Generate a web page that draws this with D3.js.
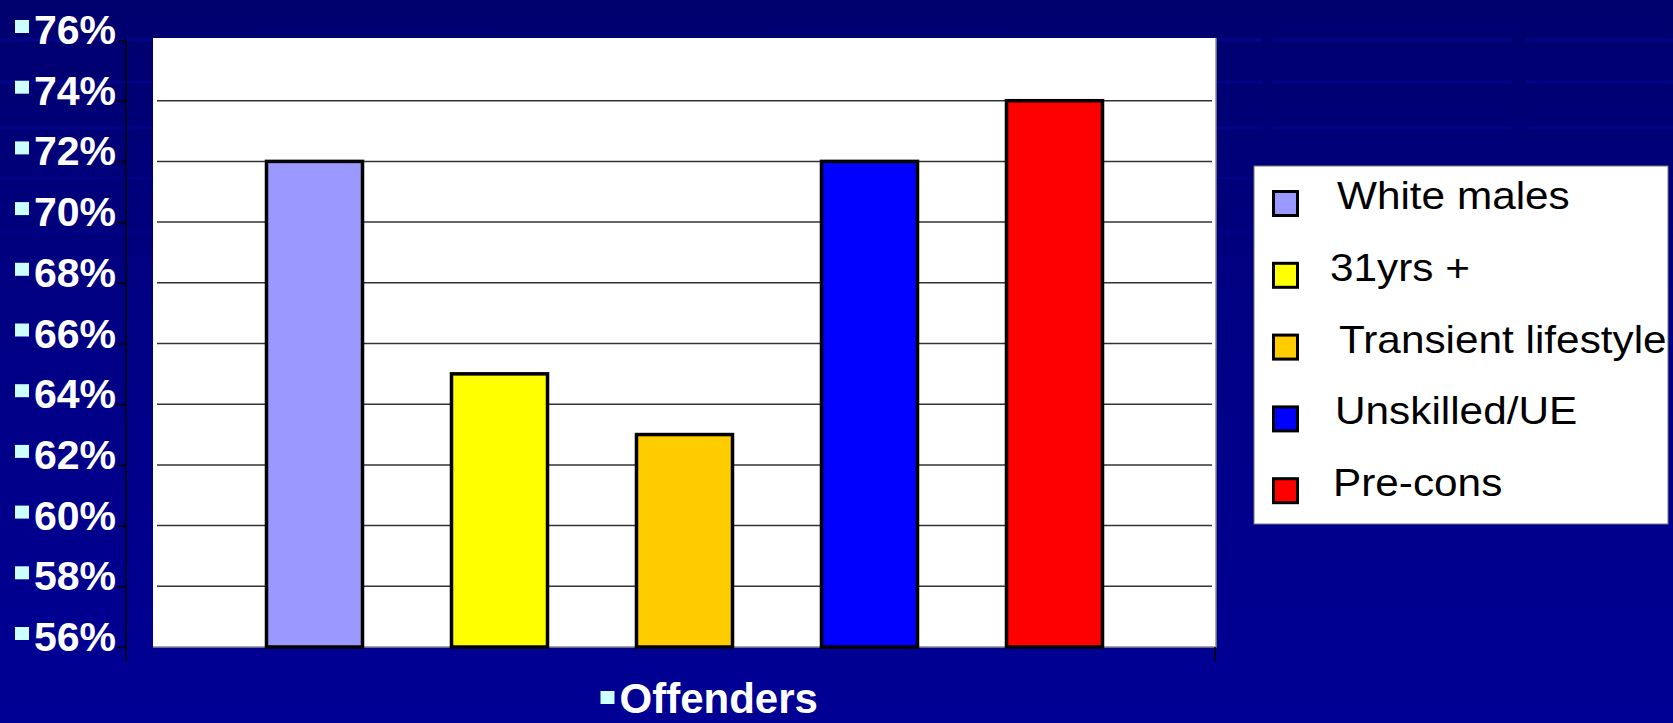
<!DOCTYPE html>
<html>
<head>
<meta charset="utf-8">
<script src="https://cdn.jsdelivr.net/npm/d3@7"></script>
<style>
  html, body { margin: 0; padding: 0; background: #00008a; overflow: hidden; }
  svg { display: block; }
</style>
</head>
<body>
<script>
const series = ["White males", "31yrs +", "Transient lifestyle", "Unskilled/UE", "Pre-cons"];
const values = [0.72, 0.65, 0.63, 0.72, 0.74];
const colors = ["#9999ff", "#ffff00", "#ffcc00", "#0000ff", "#ff0000"];
const yTicks = [0.56, 0.58, 0.60, 0.62, 0.64, 0.66, 0.68, 0.70, 0.72, 0.74, 0.76];
const category = "Offenders";

const W = 1673, H = 723;
const plot = {left: 153, top: 38, right: 1216, bottom: 647};

const svg = d3.select("body")
				.append("svg")
				.attr("width", W)
				.attr("height", H);

// slide background
const defs = svg.append("defs");
const grad = defs.append("linearGradient")
				.attr("id", "bg")
				.attr("x1", 0).attr("y1", 0).attr("x2", 0).attr("y2", 1);
grad.append("stop").attr("offset", "0%").attr("stop-color", "#00006e");
grad.append("stop").attr("offset", "45%").attr("stop-color", "#000084");
grad.append("stop").attr("offset", "100%").attr("stop-color", "#000094");
svg.append("rect")
	.attr("width", W)
	.attr("height", H)
	.attr("fill", "url(#bg)");

// faint stripes of the template
svg.selectAll("line.stripe")
	.data([40, 82, 128, 178, 232])
	.enter()
	.append("line")
	.attr("class", "stripe")
	.attr("x1", 0)
	.attr("x2", W)
	.attr("y1", d => d)
	.attr("y2", d => d)
	.attr("stroke", "#0a0ab4")
	.attr("stroke-width", 3)
	.attr("stroke-dasharray", "240,14,160,10")
	.attr("opacity", (d, i) => 0.4 - i*0.07);

const y = d3.scaleLinear()
			.domain([0.56, 0.76])
			.range([647, 40]);

const x = d3.scaleBand()
			.domain(series)
			.range([plot.left, plot.right])
			.paddingInner(0.481)
			.paddingOuter(0.6135);

// plot area
svg.append("rect")
	.attr("x", plot.left)
	.attr("y", plot.top)
	.attr("width", plot.right - plot.left)
	.attr("height", plot.bottom - plot.top)
	.attr("fill", "white");
svg.append("path")
	.attr("d", `M${plot.left},${plot.bottom}H${plot.right}V${plot.top}`)
	.attr("fill", "none")
	.attr("stroke", "#8c8c8c")
	.attr("stroke-width", 1.5);

// gridlines
svg.selectAll("line.grid")
	.data(yTicks.filter(d => d > 0.565 && d < 0.755))
	.enter()
	.append("line")
	.attr("class", "grid")
	.attr("x1", 157)
	.attr("x2", 1212)
	.attr("y1", d => y(d))
	.attr("y2", d => y(d))
	.attr("stroke", "#333")
	.attr("stroke-width", 1.5);

// bars
svg.selectAll("rect.bar")
	.data(series)
	.enter()
	.append("rect")
	.attr("class", "bar")
	.attr("x", d => x(d))
	.attr("width", x.bandwidth())
	.attr("y", (d, i) => y(values[i]))
	.attr("height", (d, i) => y(0.56) - y(values[i]))
	.attr("fill", (d, i) => colors[i])
	.attr("stroke", "black")
	.attr("stroke-width", 3.5);

// y axis
const yAxis = d3.axisLeft(y)
				.tickValues(yTicks)
				.tickSize(9)
				.tickFormat("");
const ya = svg.append("g")
			.attr("transform", "translate(126,0)")
			.call(yAxis);
ya.select(".domain").remove();
ya.selectAll(".tick line").attr("stroke", "black").attr("stroke-width", 1.5);
svg.append("line")
	.attr("x1", 126).attr("x2", 126)
	.attr("y1", 39).attr("y2", 661)
	.attr("stroke", "black")
	.attr("stroke-width", 1.5);
svg.append("line")
	.attr("x1", 1215).attr("x2", 1215)
	.attr("y1", plot.bottom).attr("y2", 661)
	.attr("stroke", "black")
	.attr("stroke-width", 1.5);

const yl = svg.selectAll("g.ylab")
			.data(yTicks)
			.enter()
			.append("g")
			.attr("class", "ylab")
			.attr("transform", d => "translate(0," + y(d) + ")");
yl.append("rect")
	.attr("x", 15)
	.attr("y", -20)
	.attr("width", 14)
	.attr("height", 13)
	.attr("fill", "#ccffff");
yl.append("text")
	.attr("x", 116)
	.attr("y", 4)
	.attr("text-anchor", "end")
	.attr("font-family", "Liberation Sans, Arial, sans-serif")
	.attr("font-weight", "bold")
	.attr("font-size", 41)
	.attr("fill", "white")
	.text(d => Math.round(d*100) + "%");

// category label
const cx = (plot.left + plot.right) / 2;
svg.append("rect")
	.attr("x", cx - 84)
	.attr("y", 691)
	.attr("width", 14)
	.attr("height", 13)
	.attr("fill", "#ccffff");
svg.append("text")
	.attr("x", cx - 65)
	.attr("y", 713)
	.attr("font-family", "Liberation Sans, Arial, sans-serif")
	.attr("font-weight", "bold")
	.attr("font-size", 42)
	.attr("fill", "white")
	.text(category);

// legend
const lg = {x: 1254, y: 166, w: 414, h: 358};
defs.append("clipPath")
	.attr("id", "lgclip")
	.append("rect")
	.attr("x", lg.x).attr("y", lg.y)
	.attr("width", lg.w).attr("height", lg.h);
svg.append("rect")
	.attr("x", lg.x)
	.attr("y", lg.y)
	.attr("width", lg.w)
	.attr("height", lg.h)
	.attr("fill", "white")
	.attr("stroke", "#777")
	.attr("stroke-width", 1);

const textX = [1337, 1330, 1339, 1335, 1333];
const items = svg.append("g")
				.attr("clip-path", "url(#lgclip)")
				.selectAll("g")
				.data(series)
				.enter()
				.append("g")
				.attr("transform", (d, i) => "translate(0," + (190 + i*71.8) + ")");
items.append("rect")
	.attr("x", 1273.5)
	.attr("y", 1.5)
	.attr("width", 24)
	.attr("height", 24)
	.attr("fill", (d, i) => colors[i])
	.attr("stroke", "black")
	.attr("stroke-width", 3);
items.append("text")
	.attr("transform", (d, i) => "translate(" + textX[i] + ",19) scale(1.085,1)")
	.attr("font-family", "Liberation Sans, Arial, sans-serif")
	.attr("font-size", 39)
	.attr("fill", "black")
	.text(d => d);
</script>
</body>
</html>
